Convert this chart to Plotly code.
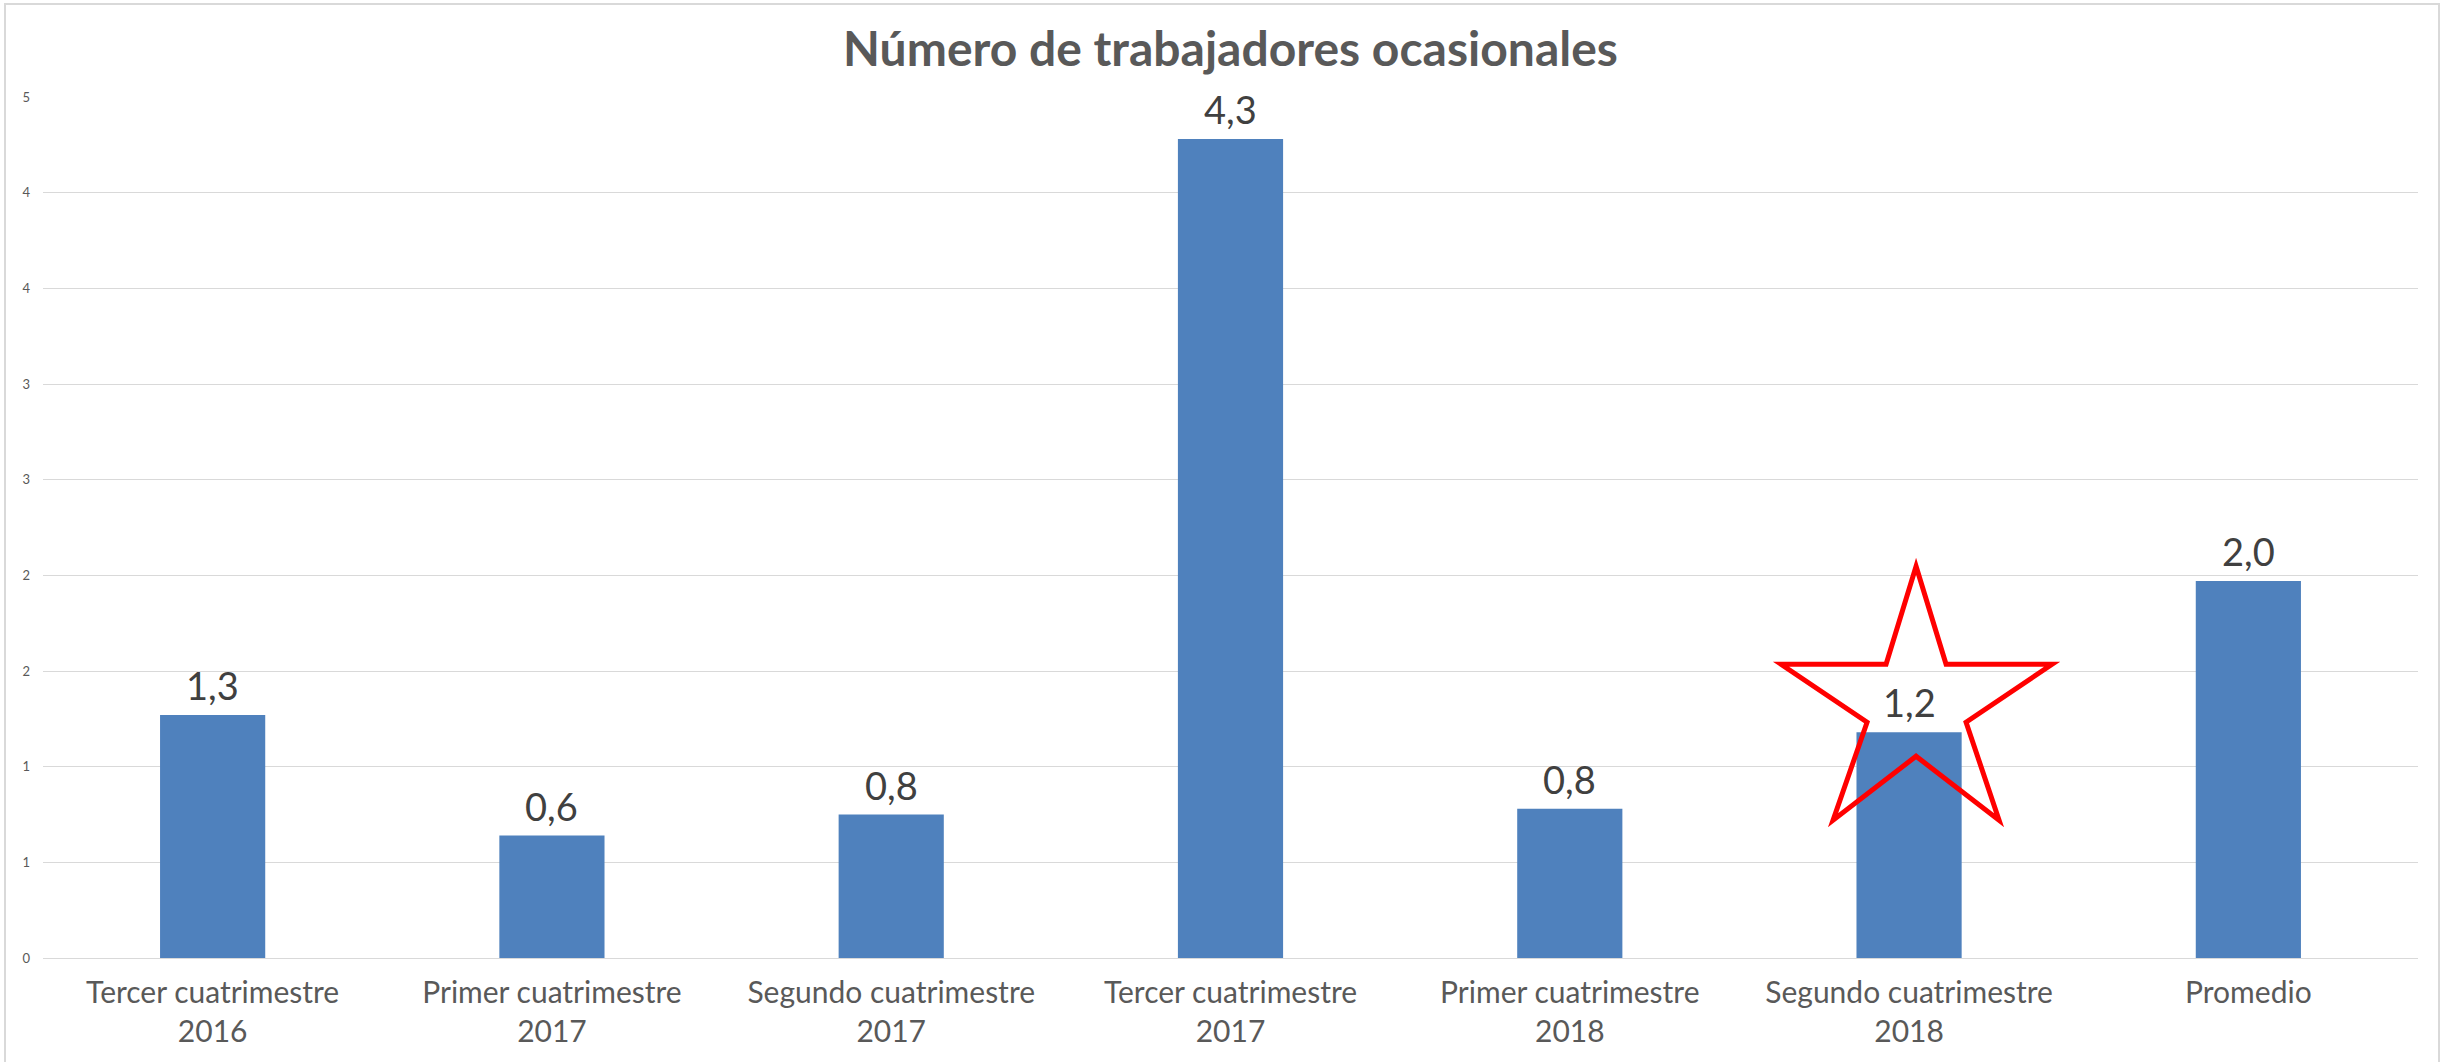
import plotly.graph_objects as go

categories = [
    "Tercer cuatrimestre<br>2016",
    "Primer cuatrimestre<br>2017",
    "Segundo cuatrimestre<br>2017",
    "Tercer cuatrimestre<br>2017",
    "Primer cuatrimestre<br>2018",
    "Segundo cuatrimestre<br>2018",
    "Promedio",
]
values = [1.27, 0.64, 0.75, 4.28, 0.78, 1.18, 1.97]
ytick_vals = [0, 0.5, 1, 1.5, 2, 2.5, 3, 3.5, 4, 4.5]
ytick_text = ["0", "1", "1", "2", "2", "3", "3", "4", "4", "5"]
title_text = "Número de trabajadores ocasionales"

# highlighted category (star decoration)
star_index = 5
star_offsets = [(7, 166), (37, 68), (143, 68), (57, 10), (90, -88), (7, -24),
                (-76, -88), (-42, 10), (-128, 68), (-23, 68)]

W, H = 2450, 1062
L, R, T, B = 43, 32, 97, 104

fig = go.Figure()
fig.add_trace(go.Bar(
    x=categories, y=values,
    marker=dict(color="#4F81BD", line=dict(width=0)),
    width=0.31,
))

for c, v in zip(categories, values):
    fig.add_annotation(x=c, y=v, text=f"{v:.1f}".replace(".", ","), showarrow=False,
                       yanchor="bottom", yshift=5,
                       font=dict(family="Lato", size=38, color="#404040"))

star_path = "M " + " L ".join(f"{dx},{dy}" for dx, dy in star_offsets) + " Z"
fig.add_shape(type="path", xref="x", yref="y", xsizemode="pixel", ysizemode="pixel",
              xanchor=star_index, yanchor=values[star_index], path=star_path,
              line=dict(color="#FF0000", width=5), fillcolor="rgba(0,0,0,0)", layer="above")

pw, ph = W - L - R, H - T - B
fig.add_shape(type="rect", xref="paper", yref="paper",
              x0=(5 - L) / pw, x1=(2439 - L) / pw,
              y0=-(H + 10 - T - ph) / ph - 0.02, y1=(H - 4 - B) / ph,
              line=dict(color="#D9D9D9", width=2), fillcolor="rgba(0,0,0,0)", layer="below")

fig.update_layout(
    width=W, height=H,
    margin=dict(l=L, r=R, t=T, b=B),
    paper_bgcolor="white", plot_bgcolor="white",
    showlegend=False,
    title=dict(text=f"<b>{title_text}</b>", x=0.5, xref="paper", y=1 - 49 / H, yanchor="middle",
               font=dict(family="Lato", size=48, color="#595959")),
    xaxis=dict(showgrid=False, showline=False, ticks="", ticklabelstandoff=14,
               tickfont=dict(family="Lato", size=30, color="#595959")),
    yaxis=dict(range=[0, 4.5], tickvals=ytick_vals, ticktext=ytick_text,
               showgrid=True, gridcolor="#D9D9D9", gridwidth=1,
               zeroline=True, zerolinecolor="#D9D9D9", zerolinewidth=1,
               showline=False, ticks="", ticklabelstandoff=12,
               tickfont=dict(family="Lato", size=13, color="#595959")),
    bargap=0.69,
)

fig.write_html("out.html", config={"displayModeBar": False},
               post_script="document.body.style.margin='0';")
